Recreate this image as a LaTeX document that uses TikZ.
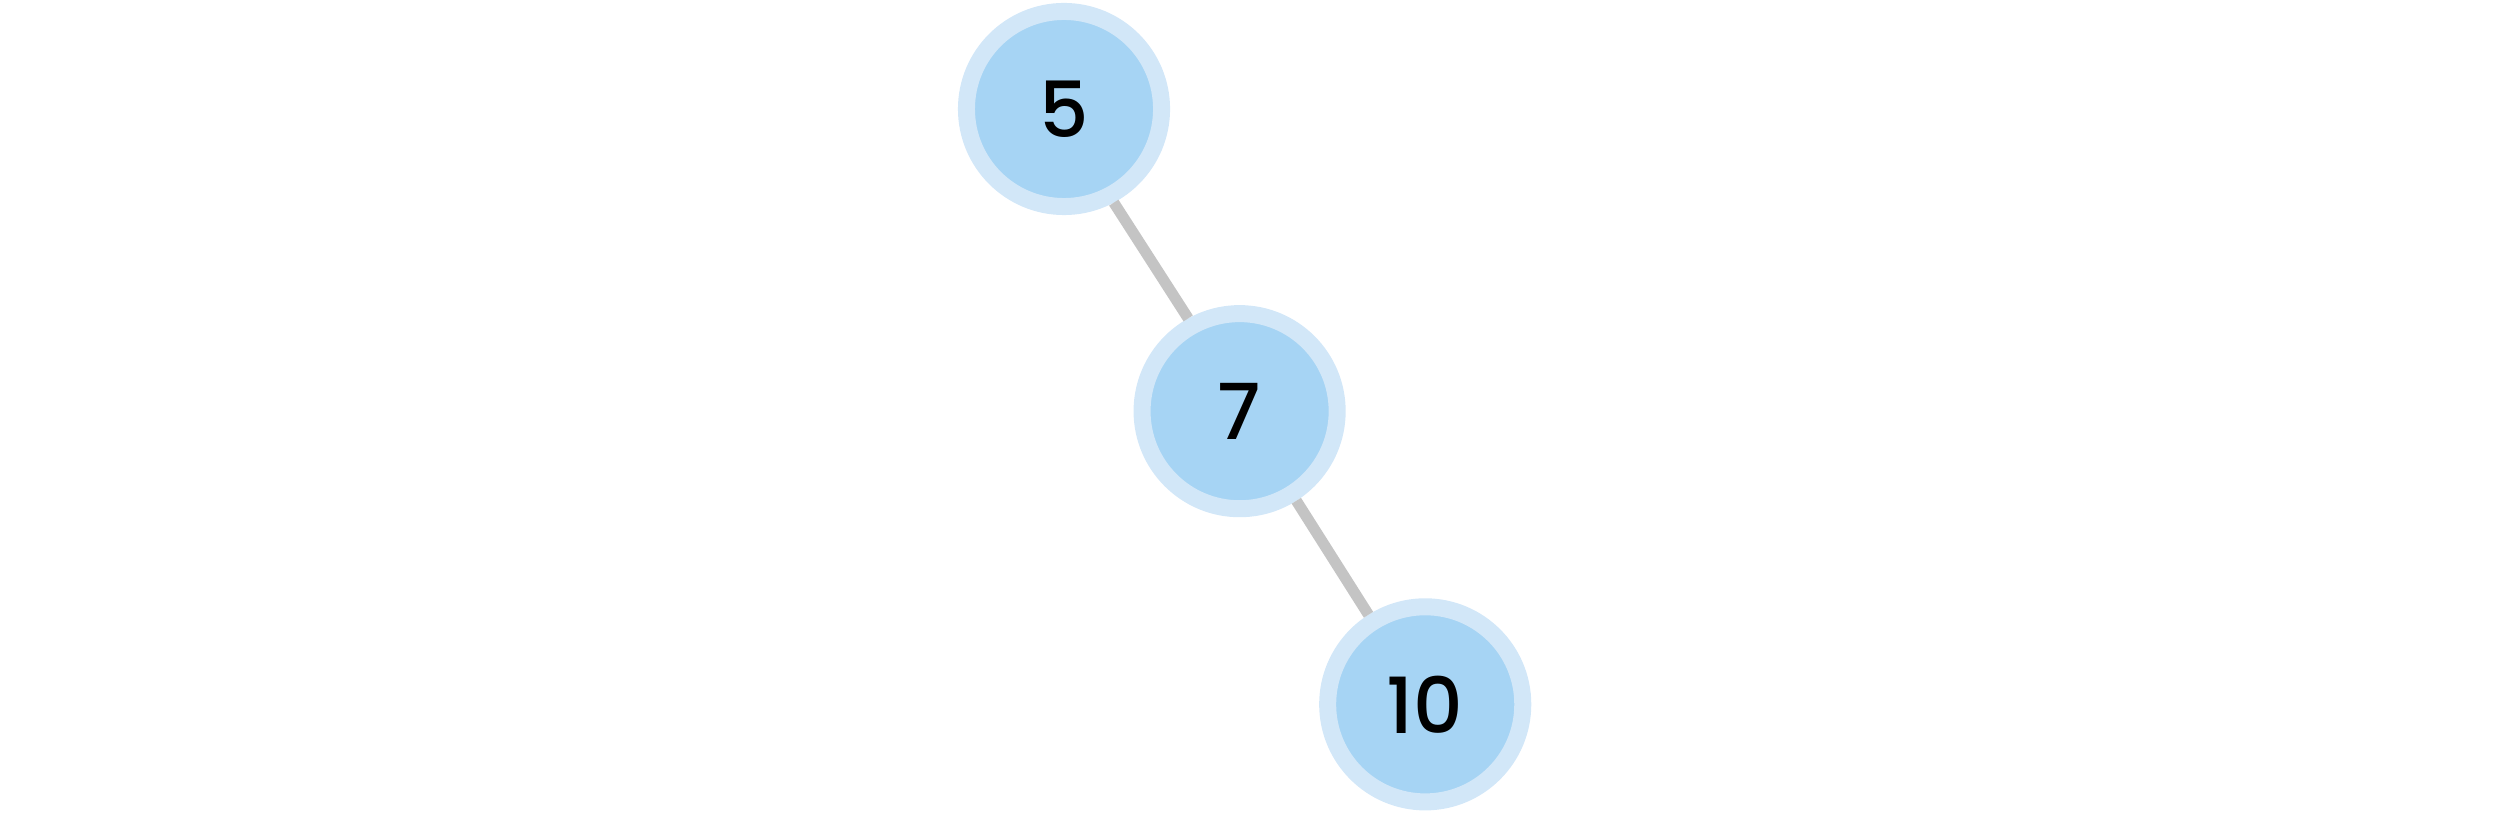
\documentclass[tikz,border=0pt]{standalone}
\usepackage{fontspec}
\setmainfont{Poppins}
\newfontfamily\nodefont{Poppins Medium}
\usetikzlibrary{positioning}
\definecolor{ringblue}{HTML}{D2E7F8}
\definecolor{fillblue}{HTML}{A6D4F4}
\definecolor{edgegray}{HTML}{C4C4C4}
\tikzset{
    treenode/.style={circle, draw=ringblue, fill=fillblue, line width=0.17cm, minimum size=1.95cm, inner sep=0pt, font=\nodefont\fontsize{22}{26}\selectfont},
    edge/.style={draw=edgegray, line width=0.11cm}
}

\begin{document}
\begin{tikzpicture}[x=0.01cm, y=-0.01cm, node distance=3cm and 1.8cm, on grid]
    \useasboundingbox (0,0) rectangle (2513,834);

    % Nodes
    \node (n5) [treenode] at (1064,109) {5};
    \node (n7) [treenode, below right=3.02cm and 1.755cm of n5] {7};
    \node (n10) [treenode, below right=2.93cm and 1.855cm of n7] {10};

    % Edges
    \draw [edge] (n5.-62) -- (n7.119);
    \draw [edge] (n7) -- (n10);

\end{tikzpicture}
\end{document}
